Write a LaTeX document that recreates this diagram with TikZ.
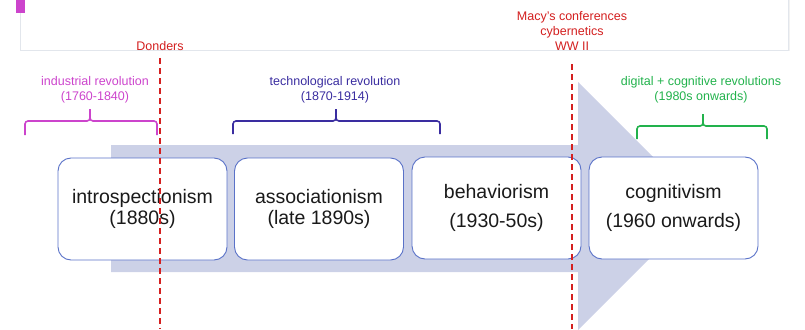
\documentclass[tikz,border=0pt]{standalone}
\usepackage{fontspec}
\setmainfont{Liberation Sans}
\definecolor{boxblue}{HTML}{5A72C8}
\definecolor{arrowfill}{HTML}{CCD1E7}
\definecolor{textdark}{HTML}{1A1A1A}
\definecolor{redline}{HTML}{D42020}
\definecolor{magentac}{HTML}{CC44CC}
\definecolor{techc}{HTML}{3A2DA0}
\definecolor{greenc}{HTML}{22B24C}
\definecolor{panelborder}{HTML}{E2E6EC}
\begin{document}
\begin{tikzpicture}[x=1pt,y=-1pt,
  stagebox/.style={draw=boxblue, line width=0.9pt, fill=white, rounded corners=13pt,
    minimum width=169pt, minimum height=102pt, inner sep=0pt, align=center,
    font=\fontsize{19.5}{21}\selectfont, text=textdark},
  eralabel/.style={align=center, font=\fontsize{12.5}{14.5}\selectfont, inner sep=0pt},
  eventlabel/.style={align=center, font=\fontsize{12.5}{15}\selectfont, inner sep=0pt, text=redline},
  braceline/.style={line width=1.6pt, rounded corners=3pt},
  dashline/.style={draw=redline, line width=1.3pt, dash pattern=on 6pt off 4pt}
]
\useasboundingbox (0,0) rectangle (805,329);
% top panel
\fill[black!5] (21.5,-5) rectangle (789.5,51.5);
\draw[draw=panelborder, fill=white, line width=0.8pt] (20.5,-5) rectangle (788,50);
\fill[magentac] (16,-1) rectangle (25,13.5);
% big arrow
\fill[arrowfill] (111,145) -- (578,145) -- (578,82) -- (702,206) -- (578,330) -- (578,272) -- (111,272) -- cycle;
% stage boxes
\node[stagebox] (intro) at (142.5,209) {introspectionism\\(1880s)};
\node[stagebox] (assoc) at (319,209) {associationism\\(late 1890s)};
\node[stagebox] (behav) at (496.5,208) {behaviorism\\[8pt](1930-50s)};
\node[stagebox] (cogn) at (673.5,208) {cognitivism\\[8pt](1960 onwards)};
% era labels
\node[eralabel, text=magentac] (indus) at (95,90) {industrial revolution\\(1760-1840)};
\node[eralabel, text=techc] (tech) at (335,90) {technological revolution\\(1870-1914)};
\node[eralabel, text=greenc] (digi) at (701,90) {digital + cognitive revolutions\\(1980s onwards)};
% braces
\draw[braceline, draw=magentac] (25,135) -- (25,121) -- (90,121) -- (90,109);
\draw[braceline, draw=magentac] (90,109) -- (90,121) -- (157,121) -- (157,135);
\draw[braceline, draw=techc] (233,134) -- (233,121) -- (336,121) -- (336,109);
\draw[braceline, draw=techc] (336,109) -- (336,121) -- (440,121) -- (440,134);
\draw[braceline, draw=greenc] (637,139) -- (637,126) -- (703,126) -- (703,114);
\draw[braceline, draw=greenc] (703,114) -- (703,126) -- (767,126) -- (767,139);
% events
\node[eventlabel] (donders) at (160,46) {Donders};
\node[eventlabel] (macy) at (572,31) {Macy’s conferences\\cybernetics\\WW II};
\coordinate (dtop) at (160,58);
\coordinate (dbot) at (160,329);
\coordinate (mtop) at (572,64);
\coordinate (mbot) at (572,329);
\draw[dashline] (dtop) -- (dbot);
\draw[dashline] (mtop) -- (mbot);
\end{tikzpicture}
\end{document}
